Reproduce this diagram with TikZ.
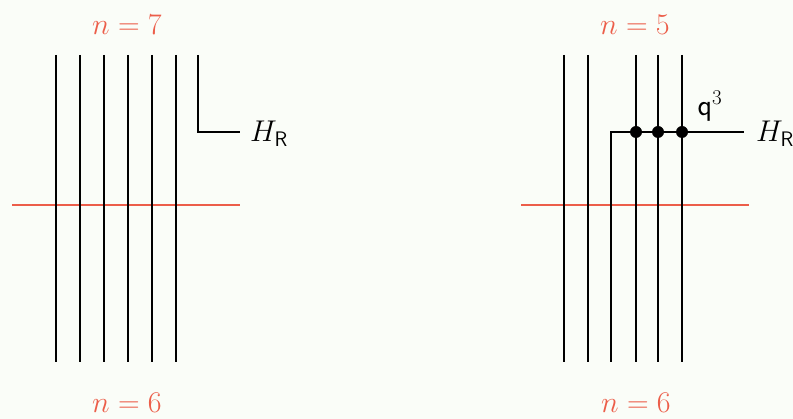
\RequirePackage{fix-cm}
\documentclass[tikz,border=0pt]{standalone}
\usepackage{amsmath}
\definecolor{bg}{RGB}{250,253,248}
\definecolor{coral}{RGB}{236,94,74}
\begin{document}
\begin{tikzpicture}[x=1pt,y=-1pt,
  strand/.style={line width=2pt,black},
  cut/.style={line width=2pt,coral},
  lbl/.style={font=\fontsize{30}{36}\selectfont,inner sep=0pt},
  nlbl/.style={lbl,text=coral},
  qlbl/.style={font=\fontsize{30}{36}\selectfont,inner sep=0pt},
  dot/.style={circle,fill=black,inner sep=0pt,minimum size=12pt}]
\fill[bg] (0,0) rectangle (793,419);
\useasboundingbox (0,0) rectangle (793,419);
% ---------- left diagram ----------
\coordinate (L1) at (12,205);
\coordinate (L2) at (240,205);
\draw[cut] (L1) -- (L2);
\foreach \x [count=\i] in {56,80,104,128,152,176}{
  \coordinate (lt\i) at (\x,55);
  \coordinate (lb\i) at (\x,362);
  \draw[strand] (lt\i) -- (lb\i);
}
\coordinate (lh1) at (198,55);
\coordinate (lh2) at (198,132);
\coordinate (lh3) at (240,132);
\draw[strand] (lh1) -- (lh2) -- (lh3);
\node[nlbl] (ntopL) at (127,25) {$n = 7$};
\node[nlbl] (nbotL) at (127,403) {$n = 6$};
\node[lbl,anchor=west] (hrL) at (250,134) {$H_{\mathsf{R}}$};
% ---------- right diagram ----------
\coordinate (R1) at (521,205);
\coordinate (R2) at (749,205);
\draw[cut] (R1) -- (R2);
\foreach \x [count=\i] in {564,588,636,658,682}{
  \coordinate (rt\i) at (\x,55);
  \coordinate (rb\i) at (\x,362);
  \draw[strand] (rt\i) -- (rb\i);
}
\coordinate (rh0) at (611,362);
\coordinate (rh1) at (611,132);
\coordinate (rh2) at (744,132);
\draw[strand] (rh0) -- (rh1) -- (rh2);
\node[dot] (d1) at (636,132) {};
\node[dot] (d2) at (658,132) {};
\node[dot] (d3) at (682,132) {};
\node[qlbl] (q3) at (710,106) {$\mathsf{q}^3$};
\node[nlbl] (ntopR) at (635,25) {$n = 5$};
\node[nlbl] (nbotR) at (636,403) {$n = 6$};
\node[lbl,anchor=west] (hrR) at (756,134) {$H_{\mathsf{R}}$};
\end{tikzpicture}
\end{document}
